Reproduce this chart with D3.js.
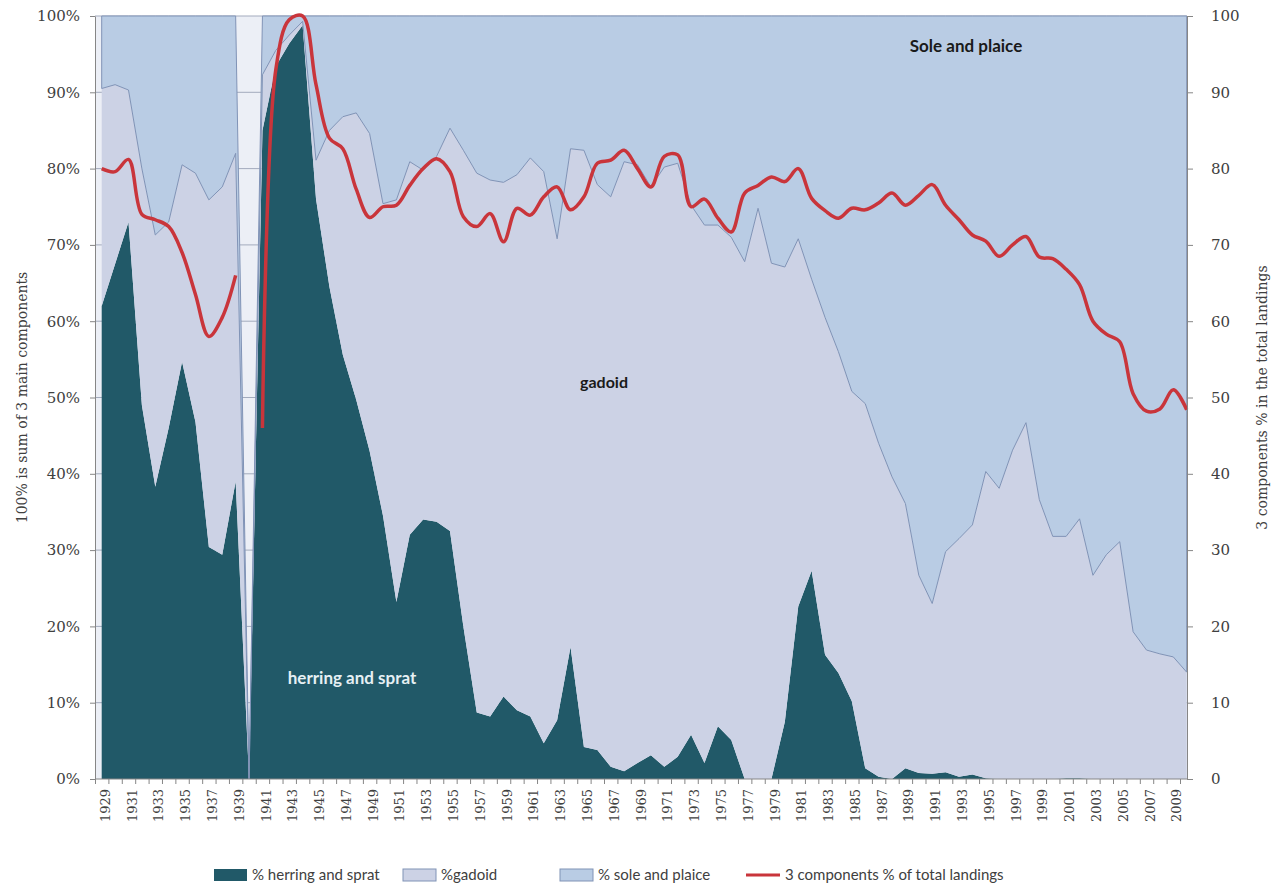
<!DOCTYPE html>
<html>
<head>
<meta charset="utf-8">
<script src="https://cdn.jsdelivr.net/npm/d3@7"></script>
<style>
  body { margin: 0; background: #fff; }
  svg { display: block; }
  .axis text { font-family: "DejaVu Serif", serif; fill: #404040; }
  .axis line, .axis path { stroke: #868686; }
</style>
</head>
<body>
<div id="chart"></div>
<script>
// categories
const years = d3.range(1929, 2011);
const yearLabels = years.filter(y => y % 2 === 1);

// % of the 3 main components (stacked to 100), 1940 missing
const herring = [62,
  67.5, 73, 49, 38.3, 46, 54.7, 46.8, 30.4, 29.4, 39,
  0, 85, 93.4, 96.4, 98.8, 76, 64.5, 55.6, 49.7, 43,
  34.5, 23.2, 32, 34, 33.7, 32.5, 20, 8.7, 8.2, 10.8,
  9, 8.2, 4.7, 7.7, 17.3, 4.2, 3.8, 1.6, 1, 2.1,
  3.1, 1.6, 2.9, 5.8, 2.1, 6.9, 5.1, 0, 0, 0,
  7.5, 22.6, 27.3, 16.3, 13.9, 10.2, 1.4, 0.3, 0, 1.4,
  0.8, 0.7, 0.9, 0.3, 0.6, 0.1, 0, 0, 0, 0,
  0, 0.1, 0.1, 0, 0, 0, 0, 0, 0, 0,
  0];
const gadoid = [28.5,
  23.5, 17.3, 31, 33, 27, 25.8, 32.6, 45.5, 48.2, 43,
  0, 7.3, 2.1, 1.1, 0.5, 5.1, 20.5, 31.2, 37.6, 41.6,
  40.9, 52.7, 48.9, 45.8, 47.9, 52.8, 62.4, 70.7, 70.3, 67.4,
  70.2, 73.2, 74.9, 63.1, 65.3, 78.2, 74.1, 74.7, 79.9, 78.4,
  74.5, 78.6, 77.8, 69.4, 70.5, 65.7, 65.9, 67.8, 74.8, 67.6,
  59.6, 48.2, 38.2, 44.2, 42.1, 40.6, 47.8, 43.7, 39.6, 34.7,
  25.9, 22.3, 28.9, 31.2, 32.7, 40.2, 38.1, 43.1, 46.7, 36.6,
  31.8, 31.7, 34, 26.7, 29.4, 31.1, 19.3, 16.9, 16.4, 16,
  14];
const sole = [9.5,
  9, 9.7, 20, 28.7, 27, 19.5, 20.6, 24.1, 22.4, 18,
  0, 7.7, 4.5, 2.5, 0.7, 18.9, 15, 13.2, 12.7, 15.4,
  24.6, 24.1, 19.1, 20.2, 18.4, 14.7, 17.6, 20.6, 21.5, 21.8,
  20.8, 18.6, 20.4, 29.2, 17.4, 17.6, 22.1, 23.7, 19.1, 19.5,
  22.4, 19.8, 19.3, 24.8, 27.4, 27.4, 29, 32.2, 25.2, 32.4,
  32.9, 29.2, 34.5, 39.5, 44, 49.2, 50.8, 56, 60.4, 63.9,
  73.3, 77, 70.2, 68.5, 66.7, 59.7, 61.9, 56.9, 53.3, 63.4,
  68.2, 68.2, 65.9, 73.3, 70.6, 68.9, 80.7, 83.1, 83.6, 84,
  86];
// 3 components % of total landings (right axis)
const totalShare = [80,
  79.6, 81.2, 74, 73.3, 72.4, 69, 63.5, 58, 60.5, 66,
  null, 46, 93, 99.5, 100, 91, 84, 82.6, 77.3, 73.6,
  75, 75.2, 77.8, 80, 81.3, 79.6, 73.7, 72.4, 74.1, 70.4,
  74.8, 73.9, 76.3, 77.6, 74.6, 76.3, 80.7, 81.1, 82.4, 80,
  77.6, 81.6, 81.8, 75, 76, 73.5, 71.7, 76.8, 77.8, 78.9,
  78.3, 80, 76.1, 74.5, 73.5, 74.8, 74.6, 75.5, 76.8, 75.2,
  76.5, 77.9, 75.2, 73.3, 71.3, 70.5, 68.5, 70, 71.1, 68.4,
  68.2, 66.8, 64.8, 60, 58.3, 57.3, 50.5, 48.2, 48.5, 51,
  48.4];

const valueTicks = d3.range(0, 101, 10);

const colors = { herring: "#215968", gadoid: "#ccd2e5", sole: "#b9cce4", total: "#c9353b", edge: "#8093b6" };

const width = 1277, height = 885;
const plot = { left: 95, right: 1187, top: 16, bottom: 779 };

const svg = d3.select("#chart").append("svg")
    .attr("width", width)
    .attr("height", height);

const x = d3.scaleLinear().domain([1929, 2010]).range([101.7, 1186.7]);
const y = d3.scaleLinear().domain([0, 100]).range([plot.bottom, plot.top]);
const step = x(1930) - x(1929);

// фон и сетка (видны только в разрыве 1940)
svg.append("rect")
    .attr("x", plot.left).attr("y", plot.top)
    .attr("width", plot.right - plot.left)
    .attr("height", plot.bottom - plot.top)
    .attr("fill", "#eceff6");

svg.append("g").selectAll("line")
    .data(valueTicks.slice(1))
    .join("line")
    .attr("x1", plot.left).attr("x2", plot.right)
    .attr("y1", d => y(d)).attr("y2", d => y(d))
    .attr("stroke", "#a3abbd");

// stacked areas
const table = years.map((yr, i) => ({ year: yr, herring: herring[i], gadoid: gadoid[i], sole: sole[i] }));
const series = d3.stack().keys(["herring", "gadoid", "sole"])(table);

const area = d3.area()
    .x(d => x(d.data.year))
    .y0(d => y(d[0]))
    .y1(d => y(d[1]));

svg.append("g").selectAll("path")
    .data(series)
    .join("path")
    .attr("d", area)
    .attr("fill", d => colors[d.key])
    .attr("stroke", d => d.key === "sole" ? colors.edge : "none")
    .attr("stroke-width", 1);

// red smoothed line
const line = d3.line()
    .defined(d => d.v != null)
    .x(d => x(d.year))
    .y(d => y(d.v))
    .curve(d3.curveCatmullRom.alpha(0.5));

svg.append("path")
    .datum(years.map((yr, i) => ({ year: yr, v: totalShare[i] })))
    .attr("d", line)
    .attr("fill", "none")
    .attr("stroke", colors.total)
    .attr("stroke-width", 3.5)
    .attr("stroke-linejoin", "round");

// axes
const left = svg.append("g").attr("class", "axis")
    .attr("transform", `translate(${plot.left},0)`)
    .call(d3.axisLeft(y).tickValues(valueTicks).tickFormat(d => d + "%").tickSize(5).tickSizeOuter(0).tickPadding(10));
left.selectAll("text").style("font-size", "15px");

const right = svg.append("g").attr("class", "axis")
    .attr("transform", `translate(${plot.right},0)`)
    .call(d3.axisRight(y).tickValues(valueTicks).tickSize(6).tickSizeOuter(0).tickPadding(18));
right.selectAll("text").style("font-size", "15px");

const bottom = svg.append("g").attr("class", "axis")
    .attr("transform", `translate(0,${plot.bottom})`)
    .call(d3.axisBottom(x).tickValues(years).tickFormat(d => yearLabels.includes(d) ? d : "").tickSize(5));
bottom.select(".domain").remove();
bottom.selectAll(".tick line").attr("x1", -step / 2).attr("x2", -step / 2);
bottom.selectAll(".tick text")
    .attr("transform", "rotate(-90)")
    .attr("text-anchor", "end")
    .attr("x", -10)
    .attr("y", 3)
    .attr("dy", "0.35em")
    .style("font-size", "13px");
bottom.append("line")
    .attr("x1", plot.left).attr("x2", plot.right)
    .attr("stroke", "#868686");

// axis titles
svg.append("text")
    .attr("transform", `translate(22,${(plot.top + plot.bottom) / 2}) rotate(-90)`)
    .attr("text-anchor", "middle")
    .attr("dy", "0.35em")
    .style("font-family", "DejaVu Serif, serif")
    .style("font-size", "14px")
    .style("fill", "#404040")
    .text("100% is sum of 3 main components");

svg.append("text")
    .attr("transform", `translate(1262,${(plot.top + plot.bottom) / 2}) rotate(-90)`)
    .attr("text-anchor", "middle")
    .attr("dy", "0.35em")
    .style("font-family", "DejaVu Serif, serif")
    .style("font-size", "14px")
    .style("fill", "#404040")
    .text("3 components % in the total landings");

// labels inside the chart
const labels = [
    { text: "Sole and plaice", x: 966, y: 52, fill: "#1a1a1a", size: 17 },
    { text: "gadoid", x: 604, y: 388, fill: "#1a1a1a", size: 16 },
    { text: "herring and sprat", x: 352, y: 684, fill: "#e6f0f4", size: 17 }
];
svg.append("g").selectAll("text")
    .data(labels)
    .join("text")
    .attr("x", d => d.x).attr("y", d => d.y)
    .attr("text-anchor", "middle")
    .style("font-family", "Lato, sans-serif")
    .style("font-weight", "bold")
    .style("font-size", d => d.size + "px")
    .style("fill", d => d.fill)
    .text(d => d.text);

// legend
const legendItems = [
    { key: "herring", label: "% herring and sprat", x: 214 },
    { key: "gadoid", label: "%gadoid", x: 403 },
    { key: "sole", label: "% sole and plaice", x: 560 },
    { key: "total", label: "3 components % of total landings", x: 746 }
];
const legend = svg.append("g").attr("transform", "translate(0,875)");
const item = legend.selectAll("g").data(legendItems).join("g")
    .attr("transform", d => `translate(${d.x},0)`);
item.filter(d => d.key !== "total").append("rect")
    .attr("x", 0).attr("y", -6).attr("width", 33).attr("height", 12)
    .attr("fill", d => colors[d.key])
    .attr("stroke", d => d.key === "herring" ? "none" : colors.edge);
item.filter(d => d.key === "total").append("line")
    .attr("x1", 0).attr("x2", 34)
    .attr("stroke", colors.total).attr("stroke-width", 3);
item.append("text")
    .attr("x", d => d.key === "total" ? 39 : 38)
    .attr("dy", "0.35em")
    .style("font-family", "Lato, sans-serif")
    .style("font-size", "15px")
    .style("fill", "#404040")
    .text(d => d.label);
</script>
</body>
</html>
